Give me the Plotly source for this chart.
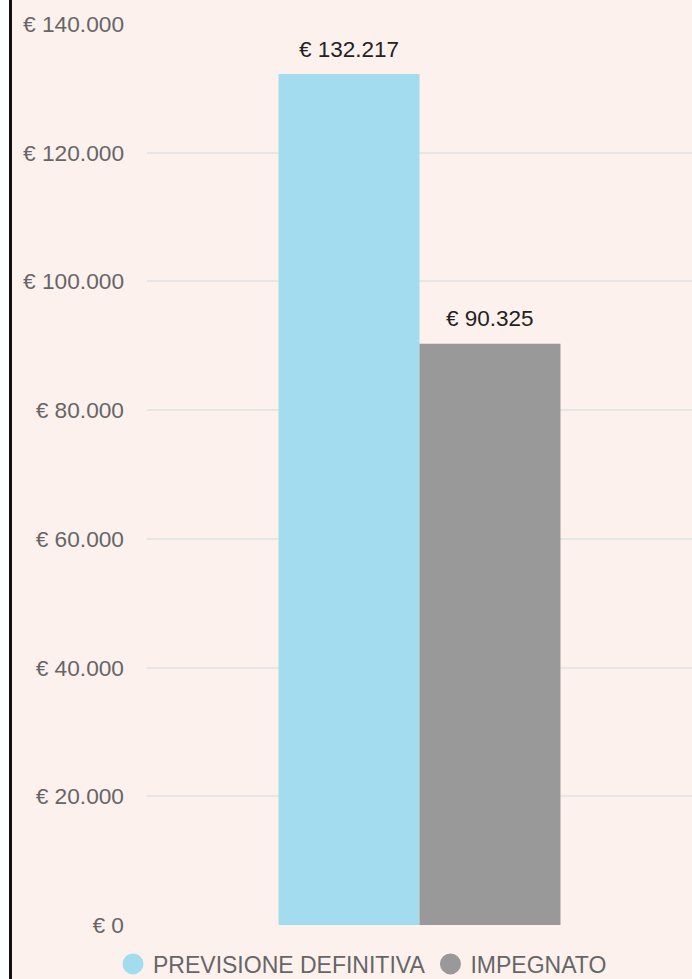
import plotly.graph_objects as go

categories = ["Totale"]
series_names = ["PREVISIONE DEFINITIVA", "IMPEGNATO"]
series_values = [[132217], [90325]]
series_colors = ["#a2dcee", "#999999"]
y_max = 140000
y_step = 20000

FONT = "Liberation Sans, Arial, sans-serif"
BG = "#fdf1ee"

fig = go.Figure()
for name, vals, col in zip(series_names, series_values, series_colors):
    fig.add_trace(go.Bar(x=categories, y=vals, name=name, marker_color=col,
                         marker_line_width=0, showlegend=False, hoverinfo="y"))
    fig.add_trace(go.Scatter(x=[None], y=[None], mode="markers", name=name,
                             marker=dict(symbol="circle", size=16, color=col,
                                         line=dict(color=col, width=5))))

def fmt(v):
    return "€ " + f"{v:,.0f}".replace(",", ".")

offsets = [-70.5, 70.5]
annotations = []
for vals, dx in zip(series_values, offsets):
    for c, v in zip(categories, vals):
        annotations.append(dict(x=c, y=v, text=fmt(v), showarrow=False, xshift=dx,
                                yshift=25, yanchor="middle",
                                font=dict(family=FONT, size=22.5, color="#222222")))

fig.update_layout(
    width=692, height=979,
    margin=dict(l=147, r=0, t=24, b=54),
    paper_bgcolor=BG, plot_bgcolor=BG,
    barmode="group", bargap=0.4826, bargroupgap=0,
    separators=",.",
    font=dict(family=FONT, size=22.5, color="#666666"),
    xaxis=dict(showticklabels=False, showgrid=False, zeroline=False, showline=False,
               ticks=""),
    yaxis=dict(range=[0, y_max], tickmode="linear", tick0=0, dtick=y_step,
               tickprefix="€ ", showtickprefix="all",
               tickformat=",.0f", showgrid=True, gridcolor="#e6e6e6", gridwidth=2,
               zeroline=False, showline=False, ticklabelstandoff=22,
               tickfont=dict(family=FONT, size=22.7, color="#666666")),
    legend=dict(orientation="h", xref="container", yref="container",
                x=113/692, xanchor="left", y=15/979, yanchor="middle",
                font=dict(family=FONT, size=23, color="#666666"),
                itemwidth=30, bgcolor="rgba(0,0,0,0)", tracegroupgap=0),
    annotations=annotations,
    shapes=[
        dict(type="rect", xref="paper", yref="paper", x0=-147/545, x1=-138/545,
             y0=-54/901, y1=1+24/901, fillcolor="white", line_width=0, layer="above"),
        dict(type="rect", xref="paper", yref="paper", x0=-138/545, x1=-135/545,
             y0=-54/901, y1=1+24/901, fillcolor="#111111", line_width=0, layer="above"),
    ],
)

fig.write_html("out.html", config={"displayModeBar": False},
               post_script="document.body.style.margin='0';")
